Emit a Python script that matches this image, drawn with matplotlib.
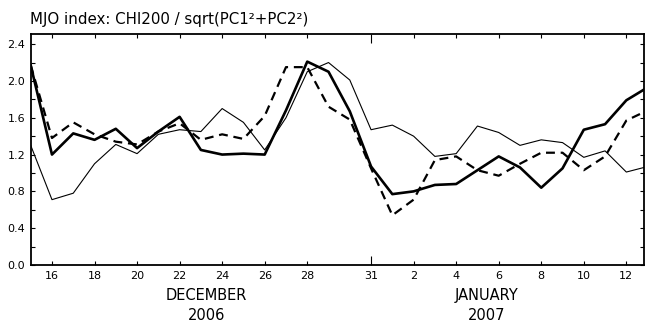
import numpy as np
import pandas as pd
import matplotlib
matplotlib.use('Agg')
import matplotlib.pyplot as plt
import matplotlib.dates as mdates
from matplotlib.transforms import blended_transform_factory

# daily dates, 15 Dec 2006 .. 13 Jan 2007
dates = pd.date_range('2006-12-15', '2007-01-13', freq='D')

# MJO index, three estimates
thick = [2.17, 1.20, 1.43, 1.36, 1.48, 1.27, 1.45, 1.61, 1.25, 1.20,
         1.21, 1.20, 1.68, 2.21, 2.10, 1.67, 1.07, 0.77, 0.80, 0.87,
         0.88, 1.03, 1.18, 1.06, 0.84, 1.05, 1.47, 1.53, 1.79, 1.93]
dashed = [2.17, 1.38, 1.55, 1.42, 1.34, 1.31, 1.45, 1.54, 1.36, 1.42,
          1.37, 1.62, 2.15, 2.15, 1.72, 1.58, 1.05, 0.54, 0.71, 1.14,
          1.18, 1.03, 0.97, 1.10, 1.22, 1.22, 1.03, 1.18, 1.57, 1.68]
thin = [1.30, 0.71, 0.78, 1.10, 1.31, 1.21, 1.42, 1.47, 1.45, 1.70,
        1.55, 1.25, 1.60, 2.10, 2.20, 2.01, 1.47, 1.52, 1.40, 1.18,
        1.21, 1.51, 1.44, 1.30, 1.36, 1.33, 1.17, 1.24, 1.01, 1.07]

tick_days = ['2006-12-16', '2006-12-18', '2006-12-20', '2006-12-22', '2006-12-24',
             '2006-12-26', '2006-12-28', '2006-12-31', '2007-01-02', '2007-01-04',
             '2007-01-06', '2007-01-08', '2007-01-10', '2007-01-12']
tick_labels = ['16', '18', '20', '22', '24', '26', '28', '31',
               '2', '4', '6', '8', '10', '12']
month_pos = ['2006-12-23 06:00', '2007-01-05 10:00']
month_names = ['DECEMBER', 'JANUARY']
month_years = ['2006', '2007']

fig = plt.figure(figsize=(6.45, 3.23), dpi=100)
ax = fig.add_axes([0.0476, 0.1796, 0.9515, 0.7151])

ax.plot(dates, thin, color='black', lw=0.8)
ax.plot(dates, dashed, color='black', lw=1.6, dashes=(4, 2.6))
ax.plot(dates, thick, color='black', lw=1.9)

ax.set_xlim(dates[0], dates[0] + pd.Timedelta(days=28.85))
ax.set_ylim(0, 2.51)

tpos = mdates.date2num(pd.to_datetime(tick_days))
ax.set_xticks(tpos)
ax.set_xticklabels(tick_labels)
ax.set_yticks(np.arange(0, 2.41, 0.4))
ax.set_yticklabels(['%.1f' % v for v in np.arange(0, 2.41, 0.4)])
ax.set_yticks(np.arange(0, 2.41, 0.2), minor=True)

ax.tick_params(axis='both', which='both', direction='in', top=True, right=True,
               length=3, width=0.8, labelsize=8, pad=4)
ax.tick_params(axis='x', which='minor', bottom=False, top=False)
for t in ax.xaxis.get_major_ticks():
    if t.label1.get_text() == '31':
        t.tick1line.set_markersize(6.5)
        t.tick2line.set_markersize(6.5)

for s in ax.spines.values():
    s.set_linewidth(1.3)

trans = blended_transform_factory(ax.transData, fig.transFigure)
for p, m, y in zip(month_pos, month_names, month_years):
    xp = mdates.date2num(pd.Timestamp(p))
    fig.text(xp, 0.085, m, transform=trans, ha='center', va='center', fontsize=10.5)
    fig.text(xp, 0.023, y, transform=trans, ha='center', va='center', fontsize=10.5)

fig.text(0.047, 0.94, 'MJO index: CHI200 / sqrt(PC1\u00b2+PC2\u00b2)',
         ha='left', va='center', fontsize=10.8)

fig.savefig('out.png', dpi=100)
